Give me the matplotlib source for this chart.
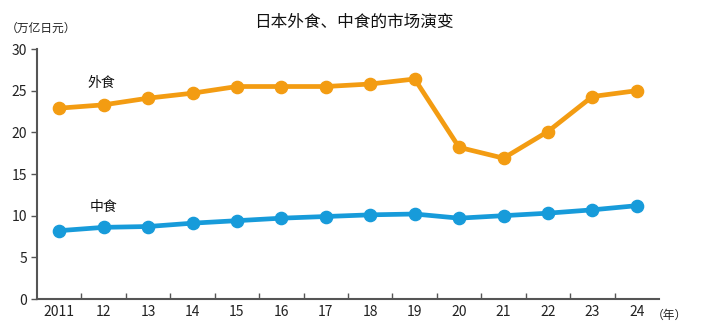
import matplotlib.pyplot as plt
import numpy as np

plt.rcParams['font.family'] = ['Noto Sans CJK SC', 'DejaVu Sans']

# 数据（万亿日元）
years = ['2011', '12', '13', '14', '15', '16', '17', '18', '19', '20', '21', '22', '23', '24']
gaishoku = [22.9, 23.3, 24.1, 24.7, 25.5, 25.5, 25.5, 25.8, 26.4, 18.2, 16.9, 20.1, 24.3, 25.0]
nakashoku = [8.2, 8.6, 8.7, 9.1, 9.4, 9.7, 9.9, 10.1, 10.2, 9.7, 10.0, 10.3, 10.7, 11.2]

orange = '#F39C12'
blue = '#179BDA'

fig = plt.figure(figsize=(7.08, 3.22), dpi=100)
ax = fig.add_axes([0.0523, 0.0714, 0.8785, 0.7764])

x = np.arange(len(years))
ax.plot(x, gaishoku, color=orange, lw=3.4, marker='o', ms=8.8, zorder=3)
ax.plot(x, nakashoku, color=blue, lw=3.4, marker='o', ms=8.8, zorder=3)

ax.set_xlim(-0.5, len(years) - 0.5)
ax.set_ylim(0, 30)
ax.set_yticks(range(0, 31, 5))
ax.set_xticks(x)
ax.set_xticklabels(years)
ax.set_xticks(np.arange(0.5, len(years) - 0.5, 1), minor=True)
ax.tick_params(axis='x', which='major', length=0, labelsize=10, pad=4, colors='#222222')
ax.tick_params(axis='x', which='minor', direction='in', length=4, width=1, color='#555555')
ax.tick_params(axis='y', direction='out', length=4, width=1, labelsize=10, pad=3,
               colors='#222222')
ax.tick_params(axis='y', color='#555555')

for s in ['top', 'right']:
    ax.spines[s].set_visible(False)
for s in ['left', 'bottom']:
    ax.spines[s].set_color('#555555')
    ax.spines[s].set_linewidth(1.5)

ax.text(0.95, 25.9, '外食', fontsize=10, ha='center', va='center', color='#111111')
ax.text(1.0, 11.1, '中食', fontsize=10, ha='center', va='center', color='#111111')

fig.text(0.5, 0.93, '日本外食、中食的市场演变', fontsize=12, ha='center', va='center',
         color='#111111')
fig.text(0.008, 0.913, '（万亿日元）', fontsize=8.5, ha='left', va='center', color='#222222')
fig.text(0.92, 0.022, '（年）', fontsize=8.5, ha='left', va='center', color='#222222')

plt.savefig('out.png', dpi=100)
